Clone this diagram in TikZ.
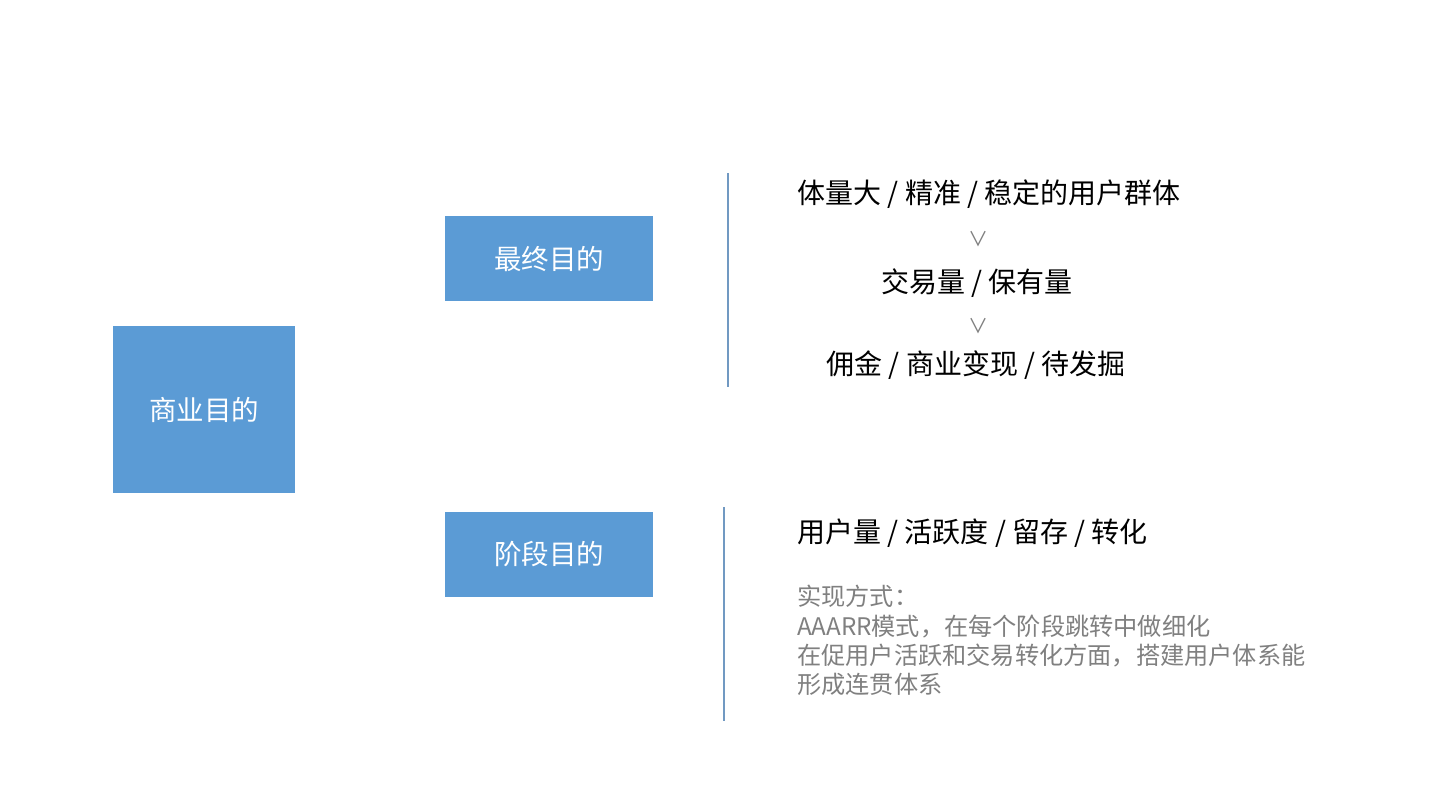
\documentclass[tikz,border=0pt]{standalone}
\usepackage{fontspec}
\setmainfont{Noto Sans CJK SC}
\definecolor{boxblue}{HTML}{5B9BD5}
\definecolor{linecol}{HTML}{7199C2}
\definecolor{graytext}{HTML}{808080}
\begin{document}
\begin{tikzpicture}[x=1pt,y=-1pt,
  boxlabel/.style={text=white,font=\fontsize{27.5}{32}\selectfont},
  maintext/.style={font=\fontsize{28}{32}\selectfont,text=black,inner sep=0pt},
  vee/.style={font=\fontsize{20}{24}\selectfont,text=graytext,inner sep=0pt},
  note/.style={font=\fontsize{24.2}{29.4}\selectfont,text=graytext,align=left,inner sep=0pt},
  divider/.style={draw=linecol,line width=1.6pt}]
\useasboundingbox (0,0) rectangle (1440,796);
\fill[white] (0,0) rectangle (1440,796);
% boxes
\fill[boxblue] (113,326) rectangle (295,493);
\node[boxlabel] (biz) at (204,410) {商业目的};
\fill[boxblue] (445,216) rectangle (653,301);
\node[boxlabel] (final) at (549,258.5) {最终目的};
\fill[boxblue] (445,512) rectangle (653,597);
\node[boxlabel] (stage) at (549,554.5) {阶段目的};
% dividers
\coordinate (l1a) at (728,173);
\coordinate (l1b) at (728,387);
\draw[divider] (l1a) -- (l1b);
\coordinate (l2a) at (724,507);
\coordinate (l2b) at (724,721);
\draw[divider] (l2a) -- (l2b);
% top texts
\node[maintext] (t1) at (989,194) {体量大 / 精准 / 稳定的用户群体};
\node[vee] (v1) at (978,239) {∨};
\node[maintext] (t2) at (977,283) {交易量 / 保有量};
\node[vee] (v2) at (978,326) {∨};
\node[maintext] (t3) at (976,365) {佣金 / 商业变现 / 待发掘};
% bottom texts
\node[maintext,anchor=west] (b1) at (797,533) {用户量 / 活跃度 / 留存 / 转化};
\node[note,anchor=north west] (b2) at (797,585) {实现方式：\\AAARR模式，在每个阶段跳转中做细化\\在促用户活跃和交易转化方面，搭建用户体系能\\形成连贯体系};
\end{tikzpicture}
\end{document}
